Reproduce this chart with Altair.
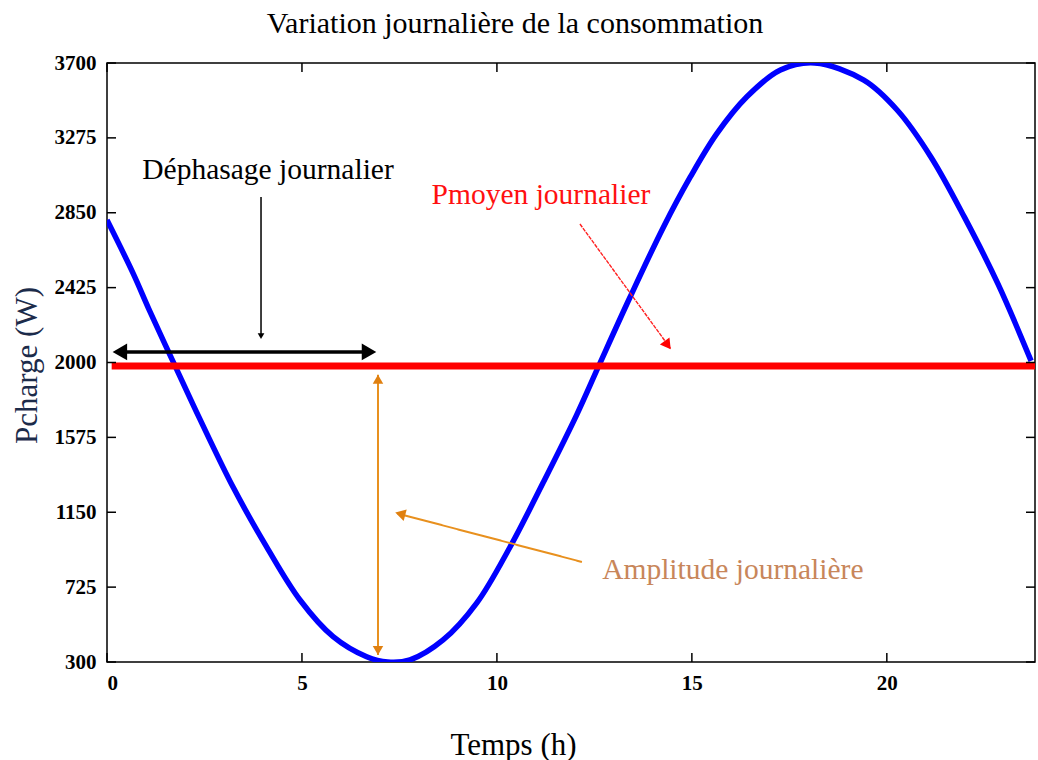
import altair as alt
import pandas as pd

# Daily load profile (hours, watts)
hours = [0, 0.67, 1.1, 1.79, 2.38, 3.24, 4.09, 4.95, 5.8, 6.66, 7.2, 7.77, 8.62,
         9.48, 10.33, 11.19, 12.04, 12.6, 13.41, 14.27, 14.96, 15.64, 16.41,
         17.27, 18.15, 19.41, 20.27, 21.13, 21.99, 22.85, 23.7]
load = [2809, 2506, 2290, 1960, 1680, 1290, 955, 652, 444, 330, 300, 312, 425,
        634, 950, 1320, 1700, 1975, 2369, 2768, 3053, 3299, 3508, 3660, 3700,
        3603, 3432, 3167, 2825, 2446, 2009]

p_mean = 1980
mean_span = [0.12, 23.8]

x_ticks = [0, 5, 10, 15, 20]
y_ticks = [300, 725, 1150, 1575, 2000, 2425, 2850, 3275, 3700]

W, H = 928, 599
SERIF = "Liberation Serif"

xs = alt.Scale(domain=[0, 23.8], nice=False, zero=False)
ys = alt.Scale(domain=[300, 3700], nice=False, zero=False)

df = pd.DataFrame({"t": hours, "p": load})

curve = alt.Chart(df).mark_line(color="#0000ff", strokeWidth=5.5, interpolate="catmull-rom", clip=True).encode(
    x=alt.X("t:Q", scale=xs,
            axis=alt.Axis(values=x_ticks, format="d", ticks=False, domain=False, grid=False,
                          labelFont=SERIF, labelFontSize=21, labelFontWeight="bold",
                          labelColor="#000", labelPadding=10,
                          title="Temps (h)", titleFont=SERIF, titleFontSize=31,
                          titleFontWeight="normal", titleColor="#000",
                          titleX=406, titleY=83, titleBaseline="middle")),
    y=alt.Y("p:Q", scale=ys,
            axis=alt.Axis(values=y_ticks, format="d", ticks=False, domain=False, grid=False,
                          labelFont=SERIF, labelFontSize=21, labelFontWeight="bold",
                          labelColor="#000", labelPadding=11,
                          title="Pcharge (W)", titleFont=SERIF, titleFontSize=31,
                          titleFontWeight="normal", titleColor="#1c2b4a",
                          titleX=-80, titleY=302, titleBaseline="middle")),
)

mean_df = pd.DataFrame({"t": [mean_span[0]], "t2": [mean_span[1]], "p": [p_mean]})
mean_line = alt.Chart(mean_df).mark_rule(color="#ff0000", strokeWidth=7).encode(
    x=alt.X("t:Q", scale=xs), x2="t2:Q", y=alt.Y("p:Q", scale=ys))

# inward ticks on all four sides of the frame
xt = pd.DataFrame({"t": x_ticks})
yt = pd.DataFrame({"p": y_ticks})
tick_style = dict(color="#000", strokeWidth=1.5)
ticks = alt.layer(
    alt.Chart(xt).mark_rule(**tick_style).encode(x=alt.X("t:Q", scale=xs), y=alt.value(H), y2=alt.value(H - 9)),
    alt.Chart(xt).mark_rule(**tick_style).encode(x=alt.X("t:Q", scale=xs), y=alt.value(0), y2=alt.value(9)),
    alt.Chart(yt).mark_rule(**tick_style).encode(y=alt.Y("p:Q", scale=ys), x=alt.value(0), x2=alt.value(9)),
    alt.Chart(yt).mark_rule(**tick_style).encode(y=alt.Y("p:Q", scale=ys), x=alt.value(W), x2=alt.value(W - 9)),
)

# annotation arrows: shaft segments and heads, in data coordinates
shafts = pd.DataFrame({
    "t": [0.3, 3.95, 12.13, 6.95, 12.18],
    "t2": [6.7, 3.95, 14.45, 6.95, 7.45],
    "p": [2060, 2939, 2786, 1930, 868],
    "p2": [2060, 2150, 2080, 340, 1143],
    "c": ["#000000", "#000000", "#ff2020", "#e8901e", "#e8901e"],
    "w": [3.5, 1.5, 1.4, 2.0, 2.0],
    "d": ["solid", "solid", "dash", "solid", "solid"],
})
shaft_marks = alt.layer(*[
    alt.Chart(shafts.iloc[[i]]).mark_rule(
        color=r.c, strokeWidth=r.w,
        strokeDash=[4, 1] if r.d == "dash" else [1, 0]).encode(
        x=alt.X("t:Q", scale=xs), x2="t2:Q", y=alt.Y("p:Q", scale=ys), y2="p2:Q")
    for i, r in enumerate(shafts.itertuples())
])

heads = pd.DataFrame({
    "t": [0.33, 6.72, 3.95, 14.38, 6.95, 6.95, 7.52],
    "p": [2060, 2060, 2150, 2099, 1905, 365, 1141],
    "shape": ["triangle-left", "triangle-right", "triangle-down", "triangle-up",
              "triangle-up", "triangle-down", "triangle-up"],
    "angle": [0, 0, 0, 144, 0, 0, 285],
    "size": [280, 280, 45, 140, 110, 110, 140],
    "c": ["#000000", "#000000", "#000000", "#ff0000", "#e08010", "#e08010", "#e08010"],
})
head_marks = alt.layer(*[
    alt.Chart(heads.iloc[[i]]).mark_point(
        shape=r.shape, angle=r.angle, size=r.size, filled=True, opacity=1, color=r.c).encode(
        x=alt.X("t:Q", scale=xs), y=alt.Y("p:Q", scale=ys))
    for i, r in enumerate(heads.itertuples())
])

labels = pd.DataFrame({
    "t": [4.13, 11.13, 16.05],
    "p": [3093, 2951, 822],
    "txt": ["Déphasage journalier", "Pmoyen journalier", "Amplitude journalière"],
    "c": ["#000000", "#ff1010", "#c8865a"],
})
label_marks = alt.layer(*[
    alt.Chart(labels.iloc[[i]]).mark_text(
        font=SERIF, fontSize=29.5, color=r.c, align="center", baseline="middle").encode(
        x=alt.X("t:Q", scale=xs), y=alt.Y("p:Q", scale=ys), text="txt:N")
    for i, r in enumerate(labels.itertuples())
])

chart = alt.layer(curve, mean_line, shaft_marks, head_marks, label_marks, ticks).properties(
    width=W, height=H,
    title=alt.TitleParams("Variation journalière de la consommation", font=SERIF,
                          fontSize=30, fontWeight="normal", color="#000",
                          anchor="middle", dx=-56, offset=13),
    autosize=alt.AutoSizeParams(type="none"),
    padding={"left": 107, "top": 63, "right": 3, "bottom": 98},
    background="white",
).configure_view(stroke="#000", strokeWidth=1.5)

chart.save("out.html", embed_options={"renderer": "svg", "actions": False})
